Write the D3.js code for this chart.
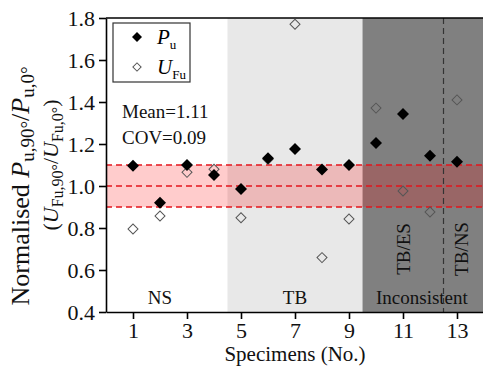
<!DOCTYPE html>
<html>
<head>
<meta charset="utf-8">
<script src="https://cdn.jsdelivr.net/npm/d3@7"></script>
<style>
  html, body { margin: 0; padding: 0; background: #fff; }
  svg { display: block; font-family: "Liberation Serif", "Times New Roman", serif; }
</style>
</head>
<body>
<svg id="chart" width="483" height="370"></svg>
<script>
// Specimen numbers and normalised ratios (90° / 0°)
const specimens = [1, 2, 3, 4, 5, 6, 7, 8, 9, 10, 11, 12, 13];
const puRatio  = [1.097, 0.92, 1.10, 1.052, 0.986, 1.132, 1.176, 1.079, 1.10, 1.205, 1.343, 1.144, 1.116];
const ufuRatio = [0.795, 0.857, 1.065, 1.08, 0.849, 1.127, 1.77, 0.659, 0.843, 1.371, 0.976, 0.876, 1.41];
const xTicks = [1, 3, 5, 7, 9, 11, 13];
const yTicks = [0.4, 0.6, 0.8, 1.0, 1.2, 1.4, 1.6, 1.8];
// Failure-mode zones along the specimen axis
const zones = [
  { name: "TB", from: 4.5, to: 9.5, fill: "#e8e8e8" },
  { name: "Inconsistent", from: 9.5, to: 14, fill: "#808080" }
];
const band = [0.9, 1.0, 1.1];

const svg = d3.select("#chart");
const x = d3.scaleLinear().domain([0, 14]).range([106, 484]);
const y = d3.scaleLinear().domain([0.4, 1.8]).range([312, 18]);

// zones
svg.selectAll("rect.zone").data(zones).join("rect")
  .attr("class", "zone")
  .attr("x", d => x(d.from)).attr("width", d => x(d.to) - x(d.from))
  .attr("y", y(1.8)).attr("height", y(0.4) - y(1.8))
  .attr("fill", d => d.fill);

// ±10 % band around unity
svg.append("rect")
  .attr("x", x(0)).attr("width", x(14) - x(0))
  .attr("y", y(band[2])).attr("height", y(band[0]) - y(band[2]))
  .attr("fill", "rgba(255,0,0,0.2)");
svg.selectAll("line.band").data(band).join("line")
  .attr("x1", x(0)).attr("x2", x(14))
  .attr("y1", d => y(d)).attr("y2", d => y(d))
  .attr("stroke", "#e3141c").attr("stroke-width", 1.3)
  .attr("stroke-dasharray", "6,4");

// region labels
const labelFont = 19;
const regionText = [
  { t: "NS", v: 2 },
  { t: "TB", v: 7 },
  { t: "Inconsistent", v: 11.7 }
];
svg.selectAll("text.region").data(regionText).join("text")
  .attr("x", d => x(d.v)).attr("y", 304)
  .attr("text-anchor", "middle").attr("font-size", labelFont).attr("fill", "#111")
  .text(d => d.t);
const subModes = [{ t: "TB/ES", v: 11 }, { t: "TB/NS", v: 13.15 }];
svg.selectAll("text.sub").data(subModes).join("text")
  .attr("transform", d => `translate(${x(d.v) + 7},249) rotate(-90)`)
  .attr("text-anchor", "middle").attr("font-size", labelFont).attr("fill", "#111")
  .text(d => d.t);

// separator between TB/ES and TB/NS
svg.append("line")
  .attr("x1", x(12.5)).attr("x2", x(12.5))
  .attr("y1", y(1.8)).attr("y2", y(0.4))
  .attr("stroke", "#333").attr("stroke-width", 1.2)
  .attr("stroke-dasharray", "6,4");

// axes
const fs = 22;
const yAxis = svg.append("g").attr("transform", `translate(${x(0)},0)`)
  .call(d3.axisLeft(y).tickValues(yTicks).tickFormat(d3.format(".1f")).tickSize(7).tickSizeOuter(0).tickPadding(4));
const xAxis = svg.append("g").attr("transform", `translate(0,${y(0.4)})`)
  .call(d3.axisBottom(x).tickValues(xTicks).tickSize(7).tickSizeOuter(0).tickPadding(3));
[xAxis, yAxis].forEach(g => {
  g.attr("font-family", "Liberation Serif").attr("font-size", fs);
  g.selectAll("path.domain").attr("stroke", "#000").attr("stroke-width", 1.6);
  g.selectAll(".tick line").attr("stroke", "#000").attr("stroke-width", 1.6);
  g.selectAll(".tick text").attr("fill", "#111");
});
// top frame line
svg.append("line").attr("x1", x(0)).attr("x2", x(14)).attr("y1", y(1.8)).attr("y2", y(1.8))
  .attr("stroke", "#000").attr("stroke-width", 1.6);

// data points
const sq = d3.symbol().type(d3.symbolSquare);
svg.selectAll("path.ufu").data(specimens).join("path")
  .attr("transform", (d, i) => `translate(${x(d)},${y(ufuRatio[i])}) rotate(45)`)
  .attr("d", sq.size(50)())
  .attr("fill", "none").attr("stroke", "#555").attr("stroke-width", 1);
svg.selectAll("path.pu").data(specimens).join("path")
  .attr("transform", (d, i) => `translate(${x(d)},${y(puRatio[i])}) rotate(45)`)
  .attr("d", sq.size(72)())
  .attr("fill", "#000");

// legend
const lg = svg.append("g");
lg.append("rect").attr("x", 113).attr("y", 23).attr("width", 77).attr("height", 59)
  .attr("fill", "#fff").attr("stroke", "#333").attr("stroke-width", 1.2);
lg.append("path").attr("transform", "translate(137,37) rotate(45)").attr("d", sq.size(50)()).attr("fill", "#000");
lg.append("path").attr("transform", "translate(137,67) rotate(45)").attr("d", sq.size(34)())
  .attr("fill", "none").attr("stroke", "#555").attr("stroke-width", 1);
const l1 = lg.append("text").attr("x", 157).attr("y", 44).attr("font-size", 21);
l1.append("tspan").attr("font-style", "italic").text("P");
l1.append("tspan").attr("font-size", 13).attr("dy", 5).text("u");
const l2 = lg.append("text").attr("x", 157).attr("y", 74).attr("font-size", 21);
l2.append("tspan").attr("font-style", "italic").text("U");
l2.append("tspan").attr("font-size", 13).attr("dy", 5).text("Fu");

// summary statistics
svg.append("text").attr("x", 122).attr("y", 118).attr("font-size", 19).attr("fill", "#111").text("Mean=1.11");
svg.append("text").attr("x", 122).attr("y", 144).attr("font-size", 19).attr("fill", "#111").text("COV=0.09");

// axis titles
svg.append("text").attr("x", x(7)).attr("y", 361).attr("text-anchor", "middle")
  .attr("font-size", 21).attr("fill", "#111").text("Specimens (No.)");

// rotated ratio label built from main-size and subscript tspans
function ratioLabel(sel, parts, small, shift) {
  parts.forEach(p => {
    const t = sel.append("tspan").text(p.t);
    if (p.i) t.attr("font-style", "italic");
    if (p.sub) t.attr("font-size", small).attr("dy", shift);
    if (p.up) t.attr("dy", -shift);
  });
}
const yl1 = svg.append("text").attr("transform", "translate(29,186) rotate(-90)")
  .attr("text-anchor", "middle").attr("font-size", 26).attr("fill", "#111");
ratioLabel(yl1, [
  { t: "Normalised " }, { t: "P", i: true },
  { t: "u,90°", sub: true }, { t: "/", up: true }, { t: "P", i: true },
  { t: "u,0°", sub: true }
], 19, 5);

const yl2 = svg.append("text").attr("transform", "translate(58,165) rotate(-90)")
  .attr("text-anchor", "middle").attr("font-size", 22).attr("fill", "#111");
ratioLabel(yl2, [
  { t: "(" }, { t: "U", i: true },
  { t: "Fu,90°", sub: true }, { t: "/", up: true }, { t: "U", i: true },
  { t: "Fu,0°", sub: true }, { t: ")", up: true }
], 16, 5);
</script>
</body>
</html>
